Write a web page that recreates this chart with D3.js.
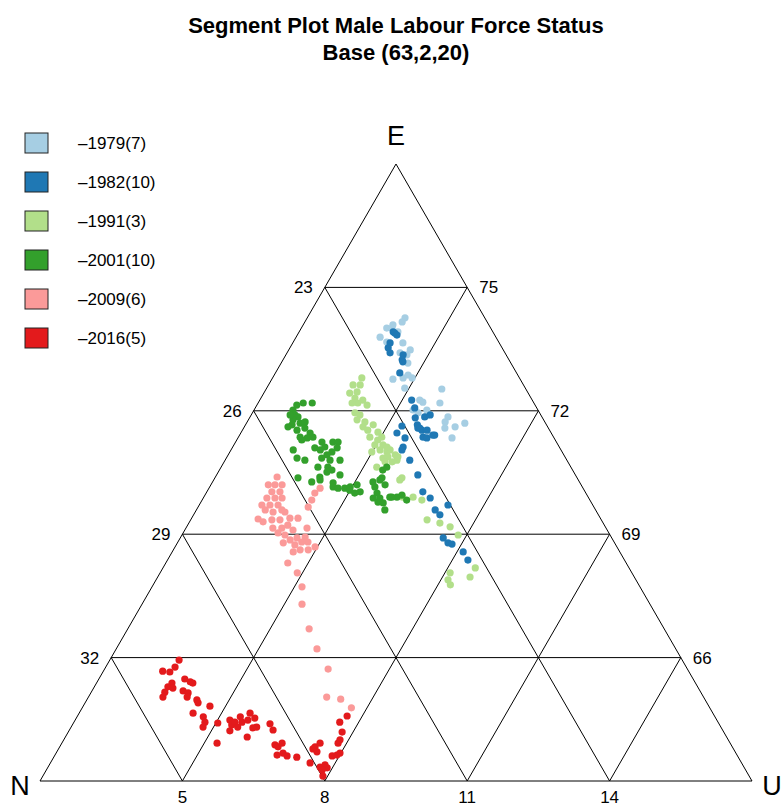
<!DOCTYPE html>
<html>
<head>
<meta charset="utf-8">
<script src="https://cdn.jsdelivr.net/npm/d3@7"></script>
<style>
  body { margin: 0; background: #fff; }
  text { font-family: "Liberation Sans", Arial, sans-serif; }
</style>
</head>
<body>
<svg id="chart" width="784" height="805"></svg>
<script>
// ternary data: each point is [E, U, N] (percent, sums to 100)
var base = { E: 63, U: 2, N: 20 }, span = 15;

var seriesNames = ["\u20131979(7)", "\u20131982(10)", "\u20131991(3)", "\u20132001(10)", "\u20132009(6)", "\u20132016(5)"];
var seriesColors = ["#a6cee3", "#1f78b4", "#b2df8a", "#33a02c", "#fb9a99", "#e31a1c"];

var ticksE = [66, 69, 72, 75];
var ticksU = [5, 8, 11, 14];
var ticksN = [23, 26, 29, 32];

var s1979 = [
  [74.26,4.06,21.68],[74.16,4.05,21.79],[74.09,3.89,22.02],[74.01,3.80,22.19],[74.01,3.91,22.08],
  [73.92,4.08,22.00],[73.79,3.77,22.44],[73.67,3.97,22.36],[73.65,4.32,22.03],[73.48,4.56,21.96],
  [73.41,4.38,22.21],[73.36,4.55,22.09],[73.16,4.67,22.17],[72.77,4.55,22.68],[72.80,4.75,22.45],
  [72.87,4.82,22.31],[72.80,4.94,22.26],[72.55,4.91,22.54],[72.53,5.70,21.77],[72.19,5.83,21.98],
  [72.26,5.37,22.37],[72.21,5.46,22.33],[72.02,5.35,22.63],[71.95,5.49,22.56],[71.85,6.17,21.98],
  [71.58,6.24,22.18],[71.61,6.44,21.95],[71.70,6.60,21.70],[71.34,6.51,22.15],[71.90,5.72,22.38],
  [72.02,5.64,22.34],[71.73,6.17,22.10]
];
var s1982 = [
  [73.92,3.98,22.10],[73.89,4.03,22.08],[73.84,4.10,22.06],[73.65,4.05,22.30],[73.53,4.07,22.40],
  [73.41,4.17,22.42],[73.36,4.47,22.17],[73.24,4.51,22.25],[73.19,4.55,22.26],[72.92,4.62,22.46],
  [72.26,5.20,22.54],[72.07,5.36,22.57],[71.85,5.68,22.47],[71.90,5.77,22.33],[71.83,5.49,22.68],
  [71.66,5.62,22.72],[71.58,5.67,22.75],[71.53,5.78,22.69],[71.53,5.89,22.58],[71.41,6.11,22.48],
  [71.36,5.89,22.75],[71.34,5.98,22.68],[71.63,5.31,23.06],[71.46,5.29,23.25],[71.34,5.52,23.14],
  [71.12,5.59,23.29],[71.05,5.60,23.35],[70.80,5.89,23.31],[70.44,6.24,23.32],[70.03,6.55,23.42],
  [69.88,6.78,23.34],[69.59,7.03,23.38],[69.47,7.19,23.34],[69.71,7.24,23.05],[68.91,7.54,23.55],
  [68.79,7.70,23.51],[68.76,7.80,23.44],[68.57,8.13,23.30],[68.37,8.33,23.30],[71.58,5.71,22.71],
  [71.41,6.07,22.52]
];
var s1991 = [
  [72.80,3.88,23.32],[72.63,3.78,23.59],[72.43,3.81,23.76],[72.46,3.95,23.59],[72.26,4.17,23.57],
  [72.19,4.10,23.71],[72.14,4.32,23.54],[72.19,3.98,23.83],[71.95,4.16,23.89],[71.90,4.29,23.81],
  [71.78,4.29,23.93],[71.73,4.48,23.79],[71.61,4.50,23.89],[71.66,4.69,23.65],[71.48,4.88,23.64],
  [71.36,4.77,23.87],[71.29,4.97,23.74],[71.17,5.14,23.69],[71.05,5.14,23.81],[71.00,5.31,23.69],
  [71.05,5.35,23.60],[70.88,5.39,23.73],[70.93,5.52,23.55],[70.80,5.62,23.58],[70.76,5.54,23.70],
  [70.85,5.30,23.85],[70.63,5.28,24.09],[70.37,5.94,23.69],[71.00,4.99,24.01],[71.36,5.02,23.62],
  [69.90,6.19,23.91],[69.90,6.41,23.69],[71.12,5.25,23.63],[70.88,5.60,23.52],[70.32,5.92,23.76],
  [69.83,6.63,23.54],[69.35,6.98,23.67],[69.27,7.29,23.44],[69.18,7.55,23.27],[68.98,7.82,23.20],
  [68.18,8.58,23.24],[67.96,8.58,23.46],[68.06,8.11,23.83],[67.89,8.15,23.96],[67.77,8.26,23.97],
  [71.17,4.97,23.86],[70.76,5.39,23.85],[72.31,3.98,23.71],[72.63,3.93,23.44],[71.53,4.64,23.83]
];
var s2001 = [
  [72.14,2.84,25.02],[72.19,2.95,24.86],[72.19,3.14,24.67],[72.02,2.82,25.16],[71.90,2.92,25.18],
  [71.85,3.01,25.14],[71.78,2.94,25.28],[71.66,2.98,25.36],[71.61,2.92,25.47],[71.70,3.13,25.17],
  [71.73,3.22,25.05],[71.58,3.29,25.13],[71.53,3.15,25.32],[71.46,3.46,25.08],[71.36,3.30,25.34],
  [71.34,3.46,25.20],[71.36,3.57,25.07],[71.24,3.82,24.94],[71.10,3.74,25.16],[71.05,3.88,25.07],
  [71.12,3.94,24.94],[71.24,4.05,24.71],[71.24,4.16,24.60],[71.10,4.21,24.69],[71.00,4.15,24.85],
  [70.93,4.08,24.99],[71.05,3.31,25.64],[70.85,3.49,25.66],[70.80,3.68,25.52],[70.85,4.01,25.14],
  [70.80,4.21,24.99],[70.80,4.42,24.78],[70.63,4.04,25.33],[70.63,4.25,25.12],[70.56,4.37,25.07],
  [70.51,4.29,25.20],[70.44,4.60,24.96],[70.39,4.20,25.41],[70.37,3.75,25.88],[70.27,4.09,25.64],
  [70.32,4.24,25.44],[70.25,4.55,25.20],[70.15,4.60,25.25],[70.12,4.72,25.16],[70.12,4.86,25.02],
  [70.15,4.96,24.89],[70.20,5.08,24.72],[70.03,5.23,24.74],[70.00,5.13,24.87],[70.07,4.99,24.94],
  [70.27,5.38,24.35],[70.32,5.50,24.18],[70.15,5.48,24.37],[70.00,5.60,24.40],[69.88,5.58,24.54],
  [69.78,5.73,24.49],[69.59,5.97,24.44],[69.88,5.72,24.40],[70.56,5.44,24.00],[70.63,5.49,23.88],
  [69.90,5.92,24.18],[69.90,6.07,24.03],[69.95,6.15,23.90],[69.83,6.31,23.86],[69.76,5.85,24.39],
  [69.90,5.96,24.14],[70.37,5.52,24.11],[70.20,5.67,24.13],[71.90,2.82,25.28],[71.29,3.37,25.34]
];
var s2009 = [
  [70.39,3.30,26.31],[70.20,3.21,26.59],[70.20,3.35,26.45],[70.20,3.50,26.30],[70.03,3.37,26.60],
  [70.03,3.54,26.43],[69.88,3.34,26.78],[69.88,3.51,26.61],[69.88,3.66,26.46],[69.71,3.49,26.80],
  [69.71,3.66,26.63],[69.59,3.45,26.96],[69.54,3.64,26.82],[69.59,3.80,26.61],[69.37,3.41,27.22],
  [69.30,3.55,27.15],[69.35,3.71,26.94],[69.35,3.88,26.77],[69.39,4.07,26.54],[69.39,4.24,26.37],
  [69.15,3.83,27.02],[69.15,4.02,26.83],[69.22,4.11,26.67],[69.10,4.28,26.62],[69.15,4.55,26.30],
  [69.03,4.00,26.97],[68.98,4.17,26.85],[68.91,4.46,26.63],[68.93,4.62,26.45],[68.81,4.74,26.45],
  [68.81,4.61,26.58],[68.79,4.23,26.98],[68.69,4.95,26.36],[68.62,4.67,26.71],[68.62,4.84,26.54],
  [68.57,4.55,26.88],[68.30,4.57,27.13],[68.06,4.89,27.05],[67.72,5.16,27.12],[69.66,4.32,26.02],
  [69.83,4.31,25.86],[70.00,4.29,25.71],[70.12,4.34,25.54],[67.30,5.37,27.33],[66.70,5.82,27.48],
  [66.21,6.23,27.56],[65.72,6.71,27.57],[65.04,7.02,27.94],[64.99,7.34,27.67],[64.78,7.67,27.55],
  [69.54,3.89,26.57],[69.71,3.32,26.97],[68.86,4.34,26.80],[68.74,4.50,26.76]
];
var s2016 = [
  [65.94,3.46,30.60],[65.77,3.46,30.77],[65.65,3.41,30.94],[65.67,3.25,31.08],[65.48,3.81,30.71],
  [65.41,3.96,30.63],[65.38,4.03,30.59],[65.38,3.59,31.03],[65.29,3.55,31.16],[65.26,3.67,31.07],
  [65.16,3.55,31.29],[65.04,3.57,31.39],[65.19,3.92,30.89],[65.14,4.05,30.81],[65.04,4.08,30.88],
  [64.97,4.32,30.71],[64.90,4.38,30.72],[64.82,4.67,30.51],[64.65,4.40,30.95],[64.56,4.66,30.78],
  [64.43,4.76,30.81],[64.31,4.78,30.91],[64.41,5.04,30.55],[64.48,5.26,30.26],[64.36,5.36,30.28],
  [64.22,5.39,30.39],[64.43,5.39,30.18],[64.56,5.44,30.00],[64.43,5.54,30.03],[64.31,5.51,30.18],
  [64.48,5.64,29.88],[64.65,5.60,29.75],[64.53,5.76,29.71],[64.31,5.91,29.78],[64.29,5.84,29.87],
  [64.07,5.83,30.10],[63.92,5.27,30.81],[64.39,6.15,29.46],[64.24,6.29,29.47],[63.88,6.51,29.61],
  [63.83,6.60,29.57],[63.92,6.64,29.44],[63.63,6.68,29.69],[63.68,6.78,29.54],[63.61,6.90,29.49],
  [63.58,7.12,29.30],[63.44,7.47,29.09],[63.78,7.36,28.86],[63.83,7.38,28.79],[63.92,7.44,28.64],
  [63.71,7.48,28.81],[63.34,7.73,28.93],[63.39,7.81,28.80],[63.32,7.89,28.79],[63.61,7.85,28.54],
  [63.63,7.94,28.43],[63.68,7.98,28.34],[63.92,7.82,28.26],[64.00,7.82,28.18],[64.19,7.77,28.04],
  [64.43,7.60,27.97],[64.58,7.68,27.74],[63.27,7.81,28.92],[63.12,7.90,28.98]
];

var allSeries = [s1979, s1982, s1991, s2001, s2009, s2016];

var svg = d3.select("#chart");

// triangle geometry: N bottom-left, U bottom-right, E top
var triLeft = 40, triRight = 752, triTop = 164, triBottom = 781;
var eScale = d3.scaleLinear().domain([base.E, base.E + span]).range([0, 1]);
var uScale = d3.scaleLinear().domain([base.U, base.U + span]).range([0, 1]);
var xPix = d3.scaleLinear().domain([0, 1]).range([triLeft, triRight]);
var yPix = d3.scaleLinear().domain([0, 1]).range([triBottom, triTop]);

function proj(E, U) {
  var b = eScale(E), a = uScale(U);
  return [xPix(a + b / 2), yPix(b)];
}

// title
svg.append("text").attr("x", 396).attr("y", 33).attr("text-anchor", "middle")
  .style("font-size", "22px").style("font-weight", "bold")
  .text("Segment Plot Male Labour Force Status");
svg.append("text").attr("x", 396).attr("y", 60).attr("text-anchor", "middle")
  .style("font-size", "22px").style("font-weight", "bold")
  .text("Base (" + base.E + "," + base.U + "," + base.N + ")");

var grid = svg.append("g").attr("stroke", "#000").attr("stroke-width", 1).attr("fill", "none");
var line = d3.line();

// outer triangle
var vN = proj(base.E, base.U), vU = proj(base.E, base.U + span), vE = proj(base.E + span, base.U);
grid.append("path").attr("d", line([vN, vU, vE]) + "Z");

var total = 100;
ticksE.forEach(function(e) {
  grid.append("path").attr("d", line([proj(e, base.U), proj(e, total - e - base.N)]));
});
ticksU.forEach(function(u) {
  grid.append("path").attr("d", line([proj(base.E, u), proj(total - base.N - u, u)]));
});
ticksN.forEach(function(n) {
  grid.append("path").attr("d", line([proj(total - base.U - n, base.U), proj(base.E, total - base.E - n)]));
});

// tick labels
var labels = svg.append("g").style("font-size", "17px").attr("fill", "#000");
ticksN.forEach(function(n) {
  var p = proj(total - base.U - n, base.U);
  labels.append("text").attr("x", p[0] - 12).attr("y", p[1] + 6).attr("text-anchor", "end").text(n);
});
ticksE.forEach(function(e) {
  var p = proj(e, total - e - base.N);
  labels.append("text").attr("x", p[0] + 12).attr("y", p[1] + 6).attr("text-anchor", "start").text(e);
});
ticksU.forEach(function(u) {
  var p = proj(base.E, u);
  labels.append("text").attr("x", p[0]).attr("y", p[1] + 22).attr("text-anchor", "middle").text(u);
});

// vertex labels
var vl = svg.append("g").style("font-size", "27px");
vl.append("text").attr("x", vE[0]).attr("y", vE[1] - 19).attr("text-anchor", "middle").text("E");
vl.append("text").attr("x", vN[0] - 20).attr("y", vN[1] + 14).attr("text-anchor", "middle").text("N");
vl.append("text").attr("x", vU[0] + 20).attr("y", vU[1] + 14).attr("text-anchor", "middle").text("U");

// points
allSeries.forEach(function(data, i) {
  svg.append("g").selectAll("circle")
    .data(data)
    .enter().append("circle")
    .attr("cx", function(d) { return proj(d[0], d[1])[0]; })
    .attr("cy", function(d) { return proj(d[0], d[1])[1]; })
    .attr("r", 3.6)
    .attr("fill", seriesColors[i]);
});

// legend
var legend = svg.append("g").attr("transform", "translate(25,133)");
var rows = legend.selectAll("g").data(seriesNames).enter().append("g")
  .attr("transform", function(d, i) { return "translate(0," + (i * 39) + ")"; });
rows.append("rect").attr("width", 23).attr("height", 20)
  .attr("fill", function(d, i) { return seriesColors[i]; })
  .attr("stroke", "#222").attr("stroke-width", 1);
rows.append("text").attr("x", 53).attr("y", 16).style("font-size", "17px").text(function(d) { return d; });
</script>
</body>
</html>
